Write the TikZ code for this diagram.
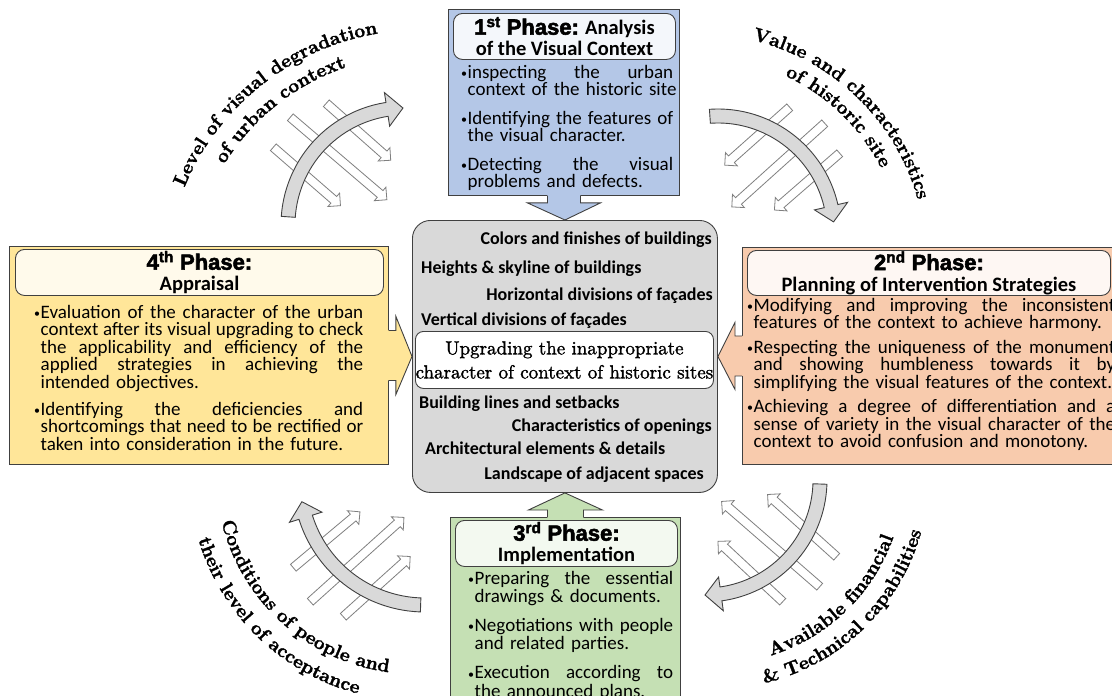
\documentclass[tikz,border=0pt]{standalone}
\usepackage{fontspec}
\setsansfont{Carlito}
\newfontfamily\heavyfont{Liberation Sans}[UprightFont={* Bold}, FakeBold=2.5]
\newfontfamily\ctfam{lmroman10-bold.otf}[FakeBold=1.5]
\newfontfamily\goalfam{lmroman10-regular.otf}[FakeBold=1.5]
\usetikzlibrary{calc,shapes.arrows,decorations.text}
\definecolor{bluebox}{HTML}{B4C7E7}
\definecolor{yellowbox}{HTML}{FFE699}
\definecolor{peachbox}{HTML}{F8CBAD}
\definecolor{greenbox}{HTML}{C5E0B4}
\definecolor{graybox}{HTML}{D9D9D9}
\definecolor{edgec}{HTML}{404040}
\definecolor{hollowc}{HTML}{7F7F7F}
\lineskiplimit=-100pt
\newlength\bulw \setlength\bulw{6.5pt}
\newlength\bwid
\newcommand\bsym{\makebox[\bulw][l]{{\fontsize{12}{12}\selectfont\raisebox{0.8pt}{•}}}}
\newcommand\BFirst[1]{\hbox to\bwid{\spaceskip=0.226em plus 1fil\relax\bsym#1}}
\newcommand\BMid[1]{\hbox to\bwid{\spaceskip=0.226em plus 1fil\relax\hspace*{\bulw}#1}}
\newcommand\BLast[1]{\hbox{\hspace*{\bulw}#1}}
\newcommand\ph[1]{{\heavyfont\fontsize{22}{21}\selectfont #1}}
\newcommand\ctfont{\ctfam\fontsize{19}{19}\selectfont}
\newcommand\CurvArrow[5]{%
\pgfmathsetmacro\hbang{#5-16/#3*57.29578}%
\filldraw[curvarr] plot[domain=#4:\hbang, samples=50, variable=\t] ({#1+(#3+7)*cos(\t)},{#2+(#3+7)*sin(\t)})
 -- ({#1+(#3+17)*cos(\hbang)},{#2+(#3+17)*sin(\hbang)})
 -- ({#1+#3*cos(#5)},{#2+#3*sin(#5)})
 -- ({#1+(#3-17)*cos(\hbang)},{#2+(#3-17)*sin(\hbang)})
 -- ({#1+(#3-7)*cos(\hbang)},{#2+(#3-7)*sin(\hbang)})
 -- plot[domain=\hbang:#4, samples=50, variable=\t] ({#1+(#3-7)*cos(\t)},{#2+(#3-7)*sin(\t)}) -- cycle;}
\begin{document}
\begin{tikzpicture}[x=1pt,y=-1pt,
  edge/.style={draw=edgec, line width=0.9pt},
  phasebox/.style={draw=edgec, line width=0.9pt, anchor=north west, inner sep=0pt},
  headbox/.style={draw=edgec, line width=0.9pt, rounded corners=9pt, anchor=north west, inner sep=0pt, align=center, font=\sffamily\bfseries\fontsize{20.5}{21}\selectfont},
  body/.style={anchor=base west, inner sep=0pt, font=\sffamily\fontsize{19}{17.5}\selectfont},
  item/.style={inner sep=0pt, font=\sffamily\bfseries\fontsize{18}{18}\selectfont},
  hollow/.style={single arrow, draw=hollowc, fill=white, line width=0.8pt, inner sep=4pt, single arrow head extend=4.5pt, anchor=tail},
  curvarr/.style={fill=graybox, draw=edgec, line width=0.9pt},
  ctext/.style={decorate, decoration={text along path, text align=center, text={#1}}}
]
\useasboundingbox (0,0) rectangle (1112,696);
\clip (0,0) rectangle (1112,696);
\fill[white] (0,0) rectangle (1112,696);

% ---- hollow straight arrows
\node[hollow, minimum height=89, rotate=-41] (tlA) at (273,147) {};
\node[hollow, minimum height=127, rotate=-40.5] (tlB) at (290,117) {};
\node[hollow, minimum height=86, rotate=-41.5] (tlC) at (326,103) {};
\node[hollow, minimum height=87, rotate=221.7] (trA) at (790,107) {};
\node[hollow, minimum height=125, rotate=222] (trB) at (825,123) {};
\node[hollow, minimum height=86.5, rotate=221] (trC) at (840,153) {};
\node[hollow, minimum height=93, rotate=138] (brA) at (837,557) {};
\node[hollow, minimum height=130, rotate=139] (brB) at (820,587) {};
\node[hollow, minimum height=88.5, rotate=137] (brC) at (783,602) {};
\node[hollow, minimum height=87, rotate=40] (blA) at (293,568) {};
\node[hollow, minimum height=126, rotate=42] (blB) at (310,602) {};
\node[hollow, minimum height=90, rotate=42] (blC) at (343,617) {};

% ---- curved arrows
\CurvArrow{405}{225}{117}{184}{269}
\CurvArrow{718}{232}{116}{266}{355}
\CurvArrow{705}{480}{115}{2}{90}
\CurvArrow{425}{480}{125}{92}{170}

% ---- curved texts
\path[ctext={|\ctfont|Level of visual degradation}] plot[domain=186:277, samples=80, variable=\t] ({420+255*cos(\t)},{285+255*sin(\t)});
\path[ctext={|\ctfont|of urban context}] plot[domain=186:277, samples=80, variable=\t] ({420+230*cos(\t)},{285+230*sin(\t)});
\path[ctext={|\ctfont|Value and characteristics}] plot[domain=269:359, samples=80, variable=\t] ({700+226*cos(\t)},{260+226*sin(\t)});
\path[ctext={|\ctfont|of historic site}] plot[domain=269:359, samples=80, variable=\t] ({700+203*cos(\t)},{260+203*sin(\t)});
\path[ctext={|\ctfont|Available financial}] plot[domain=0:100, samples=80, variable=\t] ({715+189*cos(96-\t)},{475+189*sin(96-\t)});
\path[ctext={|\ctfont|{\&} Technical capabilities}] plot[domain=0:100, samples=80, variable=\t] ({715+214*cos(96-\t)},{475+214*sin(96-\t)});
\path[ctext={|\ctfont|Conditions of people and}] plot[domain=0:100, samples=80, variable=\t] ({415+199*cos(182-\t)},{475+199*sin(182-\t)});
\path[ctext={|\ctfont|their level of acceptance}] plot[domain=0:100, samples=80, variable=\t] ({415+226*cos(184-\t)},{475+226*sin(184-\t)});

% ---- centre
\node[draw=edgec, line width=0.9pt, fill=graybox, rounded corners=18pt, minimum width=305, minimum height=272, anchor=north west, inner sep=0pt] (c) at (412,220) {};
\node[draw=edgec, line width=0.9pt, fill=white, rounded corners=8pt, minimum width=298, minimum height=57, anchor=north west, inner sep=0pt, align=center, font=\goalfam\fontsize{19}{24}\selectfont] (goal) at (415,331) {Upgrading the inappropriate\\character of context of historic sites};
\node[item, anchor=base east] (i1) at (712,244) {Colors and finishes of buildings};
\node[item, anchor=base west] (i2) at (421,273) {Heights \& skyline of buildings};
\node[item, anchor=base east] (i3) at (713,300) {Horizontal divisions of façades};
\node[item, anchor=base west] (i4) at (421,325) {Vertical divisions of façades};
\node[item, anchor=base west] (i5) at (419,408) {Building lines and setbacks};
\node[item, anchor=base east] (i6) at (712,431) {Characteristics of openings};
\node[item, anchor=base west] (i7) at (425,454) {Architectural elements \& details};
\node[item, anchor=base east] (i8) at (704,479) {Landscape of adjacent spaces};

% ---- phase boxes
\node[phasebox, fill=bluebox, minimum width=231, minimum height=186] (p1) at (448,9) {};
\node[phasebox, fill=yellowbox, minimum width=379, minimum height=218] (p4) at (9,246) {};
\node[phasebox, fill=peachbox, minimum width=380, minimum height=217] (p2) at (742,247) {};
\node[phasebox, fill=greenbox, minimum width=230, minimum height=200] (p3) at (450,517) {};

% ---- block arrows to centre
\fill[bluebox] ($(p1.south)+(-16.5,-1.5)$) -- ($(p1.south)+(-16.5,7)$) -- ($(p1.south)+(-36.5,7)$) -- (c.north) -- ($(p1.south)+(36.5,7)$) -- ($(p1.south)+(16.5,7)$) -- ($(p1.south)+(16.5,-1.5)$) -- cycle;
\draw[edge] ($(p1.south)+(-16.5,0)$) -- ($(p1.south)+(-16.5,7)$) -- ($(p1.south)+(-36.5,7)$) -- (c.north) -- ($(p1.south)+(36.5,7)$) -- ($(p1.south)+(16.5,7)$) -- ($(p1.south)+(16.5,0)$);
\fill[yellowbox] ($(p4.east)+(-1.5,-25)$) -- ($(p4.east)+(7,-25)$) -- ($(p4.east)+(7,-39)$) -- (c.west) -- ($(p4.east)+(7,39)$) -- ($(p4.east)+(7,25)$) -- ($(p4.east)+(-1.5,25)$) -- cycle;
\draw[edge] ($(p4.east)+(0,-25)$) -- ($(p4.east)+(7,-25)$) -- ($(p4.east)+(7,-39)$) -- (c.west) -- ($(p4.east)+(7,39)$) -- ($(p4.east)+(7,25)$) -- ($(p4.east)+(0,25)$);
\fill[peachbox] ($(p2.west)+(1.5,-20)$) -- ($(p2.west)+(-7,-20)$) -- ($(p2.west)+(-7,-33.5)$) -- (c.east) -- ($(p2.west)+(-7,33.5)$) -- ($(p2.west)+(-7,20)$) -- ($(p2.west)+(1.5,20)$) -- cycle;
\draw[edge] ($(p2.west)+(0,-20)$) -- ($(p2.west)+(-7,-20)$) -- ($(p2.west)+(-7,-33.5)$) -- (c.east) -- ($(p2.west)+(-7,33.5)$) -- ($(p2.west)+(-7,20)$) -- ($(p2.west)+(0,20)$);
\fill[greenbox] ($(p3.north)+(-18,1.5)$) -- ($(p3.north)+(-18,-7)$) -- ($(p3.north)+(-37,-7)$) -- (c.south) -- ($(p3.north)+(37,-7)$) -- ($(p3.north)+(18,-7)$) -- ($(p3.north)+(18,1.5)$) -- cycle;
\draw[edge] ($(p3.north)+(-18,0)$) -- ($(p3.north)+(-18,-7)$) -- ($(p3.north)+(-37,-7)$) -- (c.south) -- ($(p3.north)+(37,-7)$) -- ($(p3.north)+(18,-7)$) -- ($(p3.north)+(18,0)$);

% ---- headers
\node[headbox, fill=bluebox!15!white, minimum width=222, minimum height=46] (h1) at (453,13) {\ph{1\textsuperscript{st} Phase:} Analysis\\of the Visual Context};
\node[headbox, fill=yellowbox!20!white, minimum width=368, minimum height=46] (h4) at (15,249) {\ph{4\textsuperscript{th} Phase:}\\Appraisal};
\node[headbox, fill=peachbox!15!white, minimum width=363, minimum height=45] (h2) at (747,250) {\ph{2\textsuperscript{nd} Phase:}\\Planning of Intervention Strategies};
\node[headbox, fill=greenbox!20!white, minimum width=222, minimum height=46] (h3) at (455,520) {\ph{3\textsuperscript{rd} Phase:}\\Implementation};

% ---- bodies
\node[body, text width=212] (b1) at (461,78) {\setlength\bwid{212pt}%
\BFirst{inspecting the urban}
\BLast{context of the historic site}
\vskip 11pt
\BFirst{Identifying the features of}
\BLast{the visual character.}
\vskip 11pt
\BFirst{Detecting the visual}
\BLast{problems and defects.}};
\node[body, text width=329] (b4) at (34,318) {\setlength\bwid{329pt}%
\BFirst{Evaluation of the character of the urban}
\BMid{context after its visual upgrading to check}
\BMid{the applicability and efficiency of the}
\BMid{applied strategies in achieving the}
\BLast{intended objectives.}
\vskip 9.5pt
\BFirst{Identifying the deficiencies and}
\BMid{shortcomings that need to be rectified or}
\BLast{taken into consideration in the future.}};
\node[body, text width=368] (b2) at (747,311) {\setlength\bwid{368pt}%
\BFirst{Modifying and improving the inconsistent}
\BLast{features of the context to achieve harmony.}
\vskip 7pt
\BFirst{Respecting the uniqueness of the monument}
\BMid{and showing humbleness towards it by}
\BLast{simplifying the visual features of the context.}
\vskip 7pt
\BFirst{Achieving a degree of differentiation and a}
\BMid{sense of variety in the visual character of the}
\BLast{context to avoid confusion and monotony.}};
\node[body, text width=205, font=\sffamily\fontsize{19}{18.2}\selectfont] (b3) at (468,584) {\setlength\bwid{205pt}%
\BFirst{Preparing the essential}
\BLast{drawings \& documents.}
\vskip 11pt
\BFirst{Negotiations with people}
\BLast{and related parties.}
\vskip 11pt
\BFirst{Execution according to}
\BLast{the announced plans.}};
\end{tikzpicture}
\end{document}
